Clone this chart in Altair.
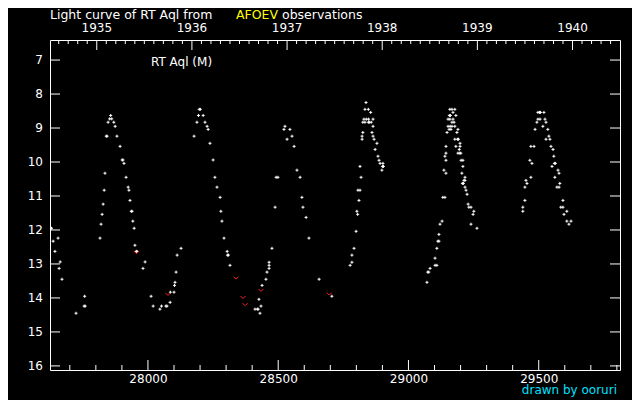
import altair as alt
import pandas as pd

# ---------------- data ----------------
white_jd = [
    27630, 27636, 27643, 27655, 27659, 27663, 27670, 27724, 27757, 27755, 27759,
    27816, 27820, 27824, 27828, 27832, 27835, 27840, 27843, 27847, 27853, 27857, 27861,
    27869, 27874, 27881, 27893, 27901, 27904, 27908, 27916, 27924, 27927, 27931, 27936,
    27939, 27942, 27947, 27950, 27955, 27958, 27981, 27989, 28012, 28020, 28046, 28052,
    28069, 28073, 28085, 28086, 28100, 28102, 28104, 28108, 28112, 28127,
    28177, 28188, 28194, 28197, 28201, 28212, 28219, 28227, 28231, 28238, 28250, 28257,
    28265, 28277, 28280, 28284, 28292, 28304, 28305, 28309, 28315, 28411, 28420, 28423,
    28426, 28430, 28434, 28438, 28453, 28457, 28465, 28465, 28465, 28476, 28488, 28492,
    28499,
    28522, 28526, 28534, 28545, 28553, 28561, 28572, 28584, 28591, 28595, 28607, 28618,
    28657, 28706,
    28776, 28783, 28783, 28791, 28799, 28802, 28805, 28806, 28814, 28810, 28814, 28818,
    28822, 28822, 28825, 28825, 28829, 28833, 28833, 28837, 28838, 28846, 28847, 28846,
    28850, 28855, 28857, 28860, 28864, 28864, 28864, 28868, 28872, 28879, 28883, 28887,
    28891, 28902, 28900, 28904, 28898,
    29071, 29074, 29078, 29083, 29102, 29109, 29102, 29109, 29113, 29117, 29117, 29121,
    29129, 29132, 29140, 29136, 29144, 29144, 29140, 29144, 29144, 29148, 29152, 29160,
    29167, 29178, 29156, 29163, 29152, 29159, 29171, 29157, 29161, 29167, 29175, 29182,
    29159, 29167, 29178, 29171, 29190, 29186, 29178, 29188, 29192, 29198, 29198, 29182,
    29195, 29190, 29197, 29201, 29202, 29209, 29209, 29205, 29217, 29217, 29213, 29207,
    29211, 29217, 29221, 29225, 29229, 29232, 29240, 29251, 29248, 29240, 29263,
    29439, 29439, 29447, 29447, 29451, 29455, 29466, 29474, 29470, 29470, 29482, 29486,
    29493, 29497, 29505, 29497, 29503, 29507, 29520, 29524, 29528, 29516, 29535, 29539,
    29528, 29543, 29547, 29555, 29558, 29560, 29564, 29551, 29574, 29578, 29562, 29581,
    29570, 29578, 29593, 29585, 29593, 29608, 29597, 29608, 29624, 29616,
]
white_mag = [
    11.95, 12.33, 12.63, 12.24, 13.13, 12.94, 13.45, 14.45, 13.95, 14.24, 14.24,
    12.24, 11.83, 11.54, 11.24, 10.83, 10.33, 9.24, 9.24, 8.83, 8.73, 8.63, 8.73,
    8.83, 8.95, 9.24, 9.54, 9.94, 9.94, 10.04, 10.45, 10.74, 10.83, 11.13, 11.45,
    11.45, 11.74, 11.95, 12.45, 12.63, 12.63, 13.13, 12.94, 13.95, 14.24, 14.33, 14.24,
    14.24, 14.24, 14.13, 13.83, 13.83, 13.63, 13.54, 13.24, 12.74, 12.54,
    9.24, 8.83, 8.63, 8.45, 8.45, 8.63, 8.83, 8.95, 9.04, 9.45, 9.94, 10.45,
    10.74, 11.04, 11.45, 11.74, 12.24, 12.63, 12.74, 12.74, 13.04, 14.33, 14.33, 14.33,
    14.04, 14.45, 14.24, 13.63, 13.45, 13.24, 12.95, 13.04, 13.13, 12.54, 11.33, 10.45,
    10.45,
    9.04, 8.95, 9.33, 9.04, 9.24, 9.54, 10.24, 10.45, 11.04, 11.33, 11.63, 12.24,
    13.45, 13.95,
    13.04, 12.74, 12.95, 12.54, 12.04, 11.45, 11.54, 10.83, 10.83, 11.13, 10.13, 10.45,
    9.24, 9.33, 9.13, 8.83, 8.74, 8.83, 8.45, 8.25, 8.74, 8.45, 8.74, 8.83,
    8.83, 8.54, 8.83, 9.13, 8.74, 8.95, 9.24, 9.33, 9.63, 9.45, 9.83, 9.95,
    10.04, 10.04, 10.13, 10.13, 10.24,
    13.54, 13.24, 13.24, 13.13, 13.04, 13.04, 12.83, 12.54, 12.33, 12.33, 12.13, 11.83,
    11.74, 11.04, 11.04, 10.24, 10.33, 9.95, 9.83, 9.74, 9.54, 9.13, 8.95, 8.95,
    8.95, 8.95, 9.04, 9.04, 8.74, 8.74, 8.74, 8.63, 8.63, 8.83, 8.83, 8.63,
    8.45, 8.45, 8.45, 8.54, 9.04, 9.13, 9.33, 9.33, 9.33, 9.45, 9.54, 9.54,
    9.63, 9.74, 9.74, 9.74, 9.95, 9.95, 10.13, 10.33, 10.45, 10.54, 10.54, 10.63,
    10.63, 10.74, 10.83, 10.95, 11.24, 11.33, 11.33, 11.45, 11.54, 11.83, 11.95,
    11.33, 11.45, 11.13, 10.74, 10.54, 10.63, 9.95, 10.04, 10.45, 9.54, 9.54, 9.04,
    8.83, 8.74, 8.74, 8.54, 8.54, 8.54, 8.54, 8.74, 8.83, 8.95, 9.04, 9.24,
    9.33, 9.33, 9.54, 9.63, 9.83, 10.04, 10.04, 10.13, 10.24, 10.33, 10.45, 10.63,
    10.74, 10.74, 11.13, 11.33, 11.33, 11.45, 11.54, 11.74, 11.74, 11.83,
]
red_jd = [27956, 28077, 28338, 28365, 28373, 28434, 28696]
red_mag = [12.66, 13.89, 13.41, 13.98, 14.19, 13.77, 13.88]

x_major = [28000, 28500, 29000, 29500]
x_minor = [v for v in range(27700, 29801, 100) if v not in x_major]
y_ticks = list(range(7, 17))
y_labels = [str(v) for v in y_ticks]
year_labels = ["1935", "1936", "1937", "1938", "1939", "1940"]
year_jd = [27803.5, 28168.75, 28534.0, 28899.25, 29264.5, 29629.75]
year_minor = [27803.5 + k * 36.525 for k in range(-4, 55) if k % 10 != 0]

title_parts = ["Light curve of RT Aql from", "AFOEV", "observations"]
star_label = ["RT Aql (M)"]
credit = ["drawn by ooruri"]

X_DOMAIN = [27624, 29812]
Y_DOMAIN = [6.41, 16.12]
W, H = 570, 330
FONT = "DejaVu Sans"

xs = alt.Scale(domain=X_DOMAIN, nice=False, zero=False)
ys = alt.Scale(domain=Y_DOMAIN, nice=False, zero=False, reverse=True)

pts = pd.DataFrame({"jd": white_jd, "mag": white_mag})
reds = pd.DataFrame({"jd": red_jd, "mag": red_mag})

main = alt.Chart(pts).mark_point(
    shape="M-1,0L1,0M0,-1L0,1", size=9, filled=False, color="white",
    strokeWidth=1, opacity=1
).encode(
    x=alt.X("jd:Q", scale=xs, axis=alt.Axis(
        values=x_major, ticks=False, domain=False, grid=False, format="d",
        labelOverlap=False, labelFontSize=12, labelFont=FONT, labelColor="white",
        labelPadding=3, title=None)),
    y=alt.Y("mag:Q", scale=ys, axis=None),
)

red = alt.Chart(reds).mark_point(
    shape="M-1,-0.5L0,0.5L1,-0.5", size=25, filled=False, color="#ff2020",
    strokeWidth=1, opacity=1
).encode(x=alt.X("jd:Q", scale=xs), y=alt.Y("mag:Q", scale=ys, axis=None))


def xrule(vals, y1, y2):
    return alt.Chart(pd.DataFrame({"jd": vals})).mark_rule(color="white", strokeWidth=1).encode(
        x=alt.X("jd:Q", scale=xs), y=alt.value(y1), y2=alt.value(y2))


def yrule(vals, x1, x2):
    return alt.Chart(pd.DataFrame({"mag": vals})).mark_rule(color="white", strokeWidth=1).encode(
        y=alt.Y("mag:Q", scale=ys, axis=None), x=alt.value(x1), x2=alt.value(x2))


ticks = [
    xrule(x_major, H, H - 10),
    xrule(x_minor, H, H - 5),
    xrule(year_jd, 0, 10),
    xrule(year_minor, 0, 4),
    yrule(y_ticks, 0, 10),
    yrule(y_ticks, W - 10, W),
]

years = alt.Chart(pd.DataFrame({"jd": year_jd, "t": year_labels})).mark_text(
    font=FONT, fontSize=12, color="white", baseline="alphabetic", align="center"
).encode(x=alt.X("jd:Q", scale=xs), y=alt.value(-8), text="t:N")

ylabs = alt.Chart(pd.DataFrame({"mag": y_ticks, "t": y_labels})).mark_text(
    font=FONT, fontSize=12, color="white", baseline="middle", align="right"
).encode(y=alt.Y("mag:Q", scale=ys, axis=None), x=alt.value(-7), text="t:N")


def label(txt, x, y, color="white", align="left", size=12):
    return alt.Chart(pd.DataFrame({"t": [txt]})).mark_text(
        font=FONT, fontSize=size, color=color, baseline="alphabetic", align=align
    ).encode(x=alt.value(x), y=alt.value(y), text="t:N")


texts = [
    label(title_parts[0], 0, -21, size=12.5),
    label(title_parts[1], 186, -21, color="#ffff00", size=12.5),
    label(title_parts[2], 232, -21, size=12.5),
    label(star_label[0], 101, 26),
    label(credit[0], 567, 354, color="#00e0ff", align="right"),
]

chart = alt.layer(main, red, *ticks, years, ylabs, *texts).properties(
    width=W, height=H,
    autosize=alt.AutoSizeParams(type="none"),
    padding={"left": 42, "top": 32, "right": 12, "bottom": 30},
    background="black",
).configure_view(stroke="white", strokeWidth=1)

chart.save("out.html", embed_options={"renderer": "svg", "actions": False})
